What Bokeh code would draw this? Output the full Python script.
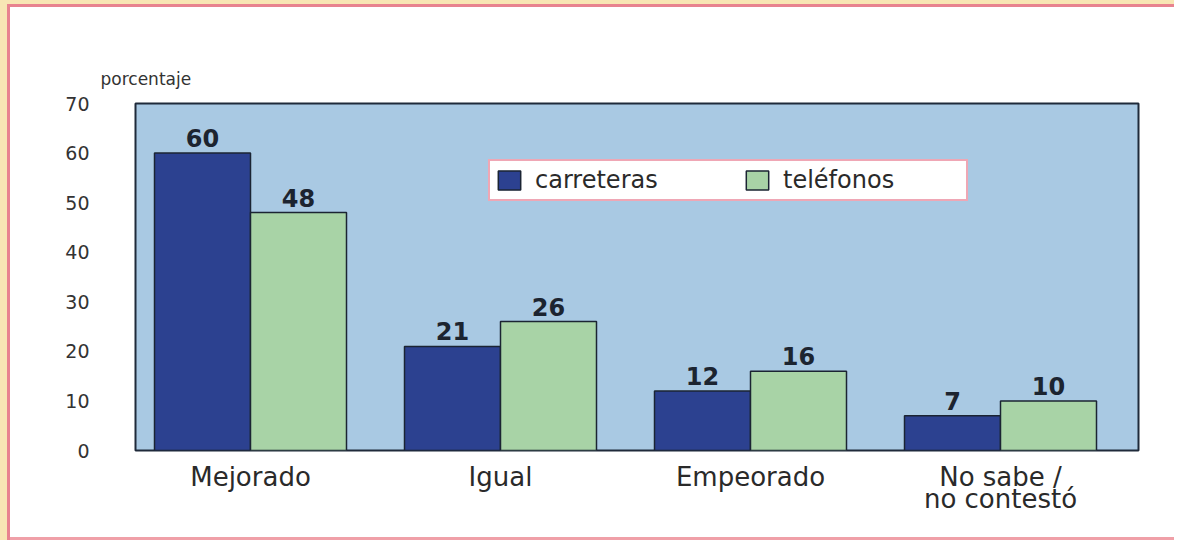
from bokeh.plotting import figure
from bokeh.models import ColumnDataSource, Range1d, FixedTicker, Legend, LegendItem, Title
from bokeh.transform import dodge
from bokeh.core.properties import value
from bokeh.embed import file_html
from bokeh.resources import INLINE

categories = ["Mejorado", "Igual", "Empeorado", "No sabe /\nno contestó"]
carreteras = [60, 21, 12, 7]
telefonos = [48, 26, 16, 10]
series_names = ["carreteras", "teléfonos"]
y_ticks = [0, 10, 20, 30, 40, 50, 60, 70]

xpos = list(range(len(categories)))
src = ColumnDataSource(dict(
    x=xpos,
    car=carreteras,
    tel=telefonos,
    car_lbl=[str(v) for v in carreteras],
    tel_lbl=[str(v) for v in telefonos],
))

FONT = "DejaVu Sans"

p = figure(
    x_range=Range1d(-0.46, 3.552),
    y_range=(0, 70),
    width=1174, height=540,
    output_backend="svg", toolbar_location=None,
    min_border_left=135, min_border_right=36,
    min_border_top=103, min_border_bottom=90,
)
p.styles = {
    "background-color": "white",
    "box-shadow": "inset 7px 4px 0 0 #f8e6b4, inset 10px 7px 0 0 #e8838f, inset 0 -3px 0 0 #f0a0a8",
}
p.background_fill_color = "#a9c9e3"
p.border_fill_color = "white"
p.border_fill_alpha = 0
p.outline_line_color = "#1f2a3a"
p.outline_line_width = 2
p.xgrid.visible = False
p.ygrid.visible = False

bw = 0.384
off = 0.192
r1 = p.vbar(x=dodge("x", -off), top="car", width=bw, source=src,
            fill_color="#2c4190", line_color="#1b2433", line_width=1.5)
r2 = p.vbar(x=dodge("x", off), top="tel", width=bw, source=src,
            fill_color="#a8d3a6", line_color="#1b2433", line_width=1.5)

for col, o, ycol in (("car_lbl", -off, "car"), ("tel_lbl", off, "tel")):
    p.text(x=dodge("x", o), y=ycol, text=col, source=src,
           y_offset=-6, text_align="center", text_baseline="bottom",
           text_font=value(FONT), text_font_style="bold", text_font_size="24px",
           text_color="#1c2430")

# axes
p.yaxis.ticker = FixedTicker(ticks=y_ticks)
p.yaxis.axis_line_color = None
p.yaxis.major_tick_line_color = None
p.yaxis.minor_tick_line_color = None
p.yaxis.major_label_standoff = 40
p.yaxis.major_label_text_font = FONT
p.yaxis.major_label_text_font_size = "19px"
p.yaxis.major_label_text_color = "#333333"

p.xaxis.ticker = FixedTicker(ticks=xpos)
p.xaxis.major_label_overrides = {i: c for i, c in zip(xpos, categories)}
p.xaxis.axis_line_color = None
p.xaxis.major_tick_line_color = None
p.xaxis.minor_tick_line_color = None
p.xaxis.major_label_standoff = 5
p.xaxis.major_label_text_font = FONT
p.xaxis.major_label_text_font_size = "26px"
p.xaxis.major_label_text_color = "#2a2a2a"
p.xaxis.major_label_text_line_height = 0.75

p.add_layout(Title(text="porcentaje", align="left", offset=-35, standoff=30,
                   text_font=FONT, text_font_size="17px", text_font_style="normal",
                   text_color="#333333"), "above")

legend = Legend(
    items=[LegendItem(label=series_names[0], renderers=[r1]),
           LegendItem(label=series_names[1], renderers=[r2])],
    orientation="horizontal",
    location=(353, 249),
    background_fill_color="white", background_fill_alpha=1.0,
    border_line_color="#e0506c", border_line_width=2,
    label_text_font=FONT, label_text_font_size="24px", label_text_color="#2a2a2a",
    label_height=24,
    glyph_width=28, glyph_height=24, label_standoff=12, label_width=178, spacing=30,
    padding=5, margin=0,
)
p.add_layout(legend, "center")

open("out.html", "w").write(file_html(p, INLINE))
